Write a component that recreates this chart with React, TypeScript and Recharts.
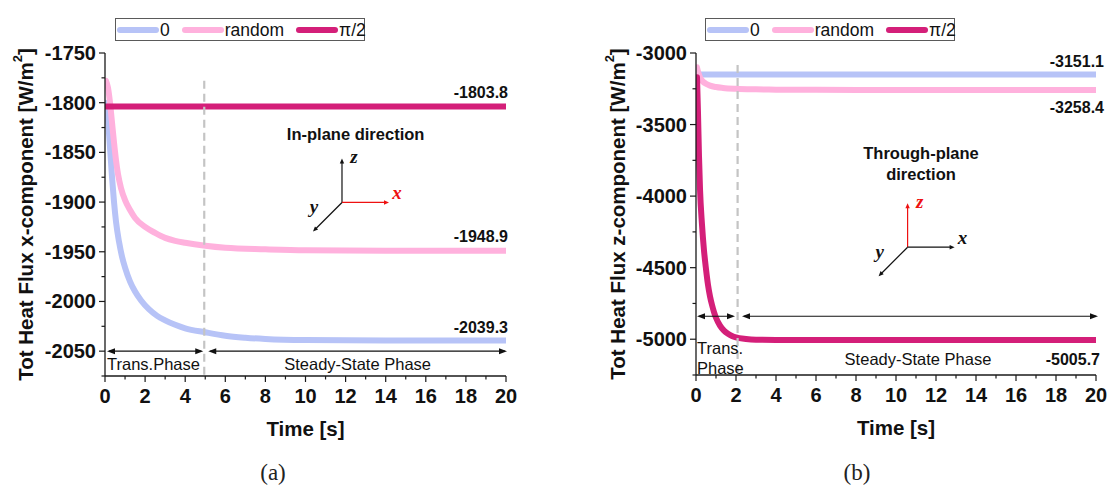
import React from 'react';
import {
  LineChart,
  Line,
  XAxis,
  YAxis,
  Legend,
  ReferenceLine,
  ReferenceDot,
} from 'recharts';

// ---------- series meta ----------
const seriesNames = ['0', 'random', 'π/2'];
const seriesColors = ['#b7c3f7', '#ffb1dd', '#d41f79'];

// ---------- (a) in-plane: x-component of total heat flux ----------
const inPlaneZeroT = [0.03, 0.15, 0.25, 0.35, 0.45, 0.55, 0.7, 0.85, 1.0, 1.25, 1.5, 1.8, 2.2, 2.6, 3.0, 3.5, 4.0, 5.0, 6.0, 7.0, 8.0, 10, 14, 20];
const inPlaneZeroV = [-1800, -1818, -1845, -1875, -1900, -1920, -1940, -1955, -1966, -1980, -1990, -1999, -2008, -2014.5, -2019, -2023.5, -2027, -2031, -2034.5, -2036.5, -2037.8, -2038.9, -2039.3, -2039.3];

const inPlaneRandomT = [0.05, 0.15, 0.25, 0.35, 0.45, 0.55, 0.65, 0.8, 1.0, 1.25, 1.5, 2.0, 2.5, 3.0, 3.5, 4.0, 5.0, 6.0, 8.0, 10, 14, 20];
const inPlaneRandomV = [-1778, -1785, -1800, -1820, -1840, -1858, -1872, -1886, -1898, -1908, -1916, -1925, -1931, -1936, -1939, -1941, -1944, -1946, -1947.5, -1948.5, -1948.9, -1948.9];

const inPlaneHalfPiT = [0, 20];
const inPlaneHalfPiV = [-1803.8, -1803.8];

const inPlaneXTicks = [0, 1, 2, 3, 4, 5, 6, 7, 8, 9, 10, 11, 12, 13, 14, 15, 16, 17, 18, 19, 20];
const inPlaneYTicks = [-2075, -2050, -2025, -2000, -1975, -1950, -1925, -1900, -1875, -1850, -1825, -1800, -1775, -1750];

// ---------- (b) through-plane: z-component of total heat flux ----------
const throughZeroT = [0.1, 20];
const throughZeroV = [-3151.1, -3151.1];

const throughRandomT = [0.05, 0.1, 0.2, 0.35, 0.5, 0.7, 1.0, 1.35, 2.0, 3.0, 4.0, 6.0, 10, 20];
const throughRandomV = [-3100, -3130, -3170, -3200, -3215, -3228, -3238, -3244, -3250, -3254, -3256, -3257.5, -3258.2, -3258.4];

const throughHalfPiT = [0.05, 0.1, 0.15, 0.2, 0.3, 0.4, 0.5, 0.6, 0.7, 0.8, 0.9, 1.0, 1.2, 1.4, 1.6, 1.8, 2.0, 2.5, 3.0, 4, 6, 20];
const throughHalfPiV = [-3170, -3420, -3720, -3950, -4200, -4380, -4510, -4620, -4700, -4760, -4810, -4850, -4905, -4940, -4962, -4977, -4987, -4998, -5003, -5005, -5005.5, -5005.7];

const throughXTicks = [0, 1, 2, 3, 4, 5, 6, 7, 8, 9, 10, 11, 12, 13, 14, 15, 16, 17, 18, 19, 20];
const throughYTicks = [-5250, -5000, -4750, -4500, -4250, -4000, -3750, -3500, -3250, -3000];

// ---------- styling ----------
const SANS = '"Liberation Sans", Arial, Helvetica, sans-serif';
const SERIF = '"Liberation Serif", "Times New Roman", serif';
const AXIS = '#1a1a1a';
const DASH = '#c4c4c4';
const TICK_FONT = 20;

type Pt = { t: number; v: number };
const zip = (ts: number[], vs: number[]): Pt[] => ts.map((t, i) => ({ t, v: vs[i] }));
const last = (vs: number[]) => vs[vs.length - 1];

// ---------- axis ticks with minor marks ----------
const makeXTick = (majorStep: number) => (props: any) => {
  const { x, y, payload } = props;
  const v = payload.value as number;
  const major = Math.abs(v % majorStep) < 1e-9;
  return (
    <g>
      <line x1={x} x2={x} y1={y} y2={y + (major ? 6 : 3.5)} stroke={AXIS} strokeWidth={1.2} />
      {major && (
        <text x={x} y={y + 27} textAnchor="middle" fontSize={TICK_FONT} fontWeight="bold" fill="#111" fontFamily={SANS}>
          {v}
        </text>
      )}
    </g>
  );
};

const makeYTick = (majorStep: number) => (props: any) => {
  const { x, y, payload } = props;
  const v = payload.value as number;
  const major = Math.abs(v % majorStep) < 1e-9;
  return (
    <g>
      <line x1={x} x2={x - (major ? 6 : 3.5)} y1={y} y2={y} stroke={AXIS} strokeWidth={1.2} />
      {major && (
        <text x={x - 9} y={y + 7} textAnchor="end" fontSize={TICK_FONT} fontWeight="bold" fill="#111" fontFamily={SANS}>
          {v}
        </text>
      )}
    </g>
  );
};

// ---------- annotation shapes ----------
const DoubleArrow = (p: any) => {
  const { x1, y1, x2, y2 } = p;
  const h = 8;
  const w = 3;
  return (
    <g>
      <line x1={x1 + 2} y1={y1} x2={x2 - 2} y2={y2} stroke="#111" strokeWidth={1.1} />
      <polygon points={`${x1},${y1} ${x1 + h},${y1 - w} ${x1 + h},${y1 + w}`} fill="#111" />
      <polygon points={`${x2},${y2} ${x2 - h},${y2 - w} ${x2 - h},${y2 + w}`} fill="#111" />
    </g>
  );
};

const textAt =
  (lines: string[], opts: { anchor?: 'start' | 'middle' | 'end'; dx?: number; dy?: number; size?: number; bold?: boolean; gap?: number }) =>
  (p: any) => {
    const { cx, cy } = p;
    const { anchor = 'middle', dx = 0, dy = 0, size = 16, bold = false, gap = 20 } = opts;
    return (
      <g>
        {lines.map((s, i) => (
          <text
            key={i}
            x={cx + dx}
            y={cy + dy + i * gap}
            textAnchor={anchor}
            fontSize={size}
            fontWeight={bold ? 'bold' : 'normal'}
            fill="#111"
            fontFamily={SANS}
          >
            {s}
          </text>
        ))}
      </g>
    );
  };

const arrowHead = (x: number, y: number, ang: number, color: string) => {
  const L = 5;
  const W = 2.2;
  const c = Math.cos(ang);
  const s = Math.sin(ang);
  const bx = x - L * c;
  const by = y - L * s;
  return <polygon points={`${x},${y} ${bx - W * s},${by + W * c} ${bx + W * s},${by - W * c}`} fill={color} />;
};

// coordinate-frame glyph: z up, x right, y down-left; one axis highlighted red
const AxesGlyph = (redAxis: 'x' | 'z') => (p: any) => {
  const { cx, cy } = p;
  const red = '#ee1111';
  const zc = redAxis === 'z' ? red : '#111';
  const xc = redAxis === 'x' ? red : '#111';
  const zLen = 44;
  const xLen = 47;
  const yd = 29;
  const lab = { fontFamily: SERIF, fontStyle: 'italic' as const, fontWeight: 'bold' as const, fontSize: 19 };
  return (
    <g>
      <line x1={cx} y1={cy} x2={cx} y2={cy - zLen + 3} stroke={zc} strokeWidth={1.2} />
      {arrowHead(cx, cy - zLen, -Math.PI / 2, zc)}
      <line x1={cx} y1={cy} x2={cx + xLen - 3} y2={cy} stroke={xc} strokeWidth={1.2} />
      {arrowHead(cx + xLen, cy, 0, xc)}
      <line x1={cx} y1={cy} x2={cx - yd + 2} y2={cy + yd - 2} stroke="#111" strokeWidth={1.2} />
      {arrowHead(cx - yd, cy + yd, (3 * Math.PI) / 4, '#111')}
      <text x={cx + 12} y={cy - zLen + 5} textAnchor="middle" fill={zc} {...lab}>z</text>
      <text x={cx + xLen + 8} y={cy - 3} textAnchor="middle" fill={xc} {...lab}>x</text>
      <text x={cx - 28} y={cy + 11} textAnchor="middle" fill="#111" {...lab}>y</text>
    </g>
  );
};

// ---------- legend ----------
const LegendBox = (props: any) => {
  const payload = (props.payload || []) as any[];
  return (
    <div
      style={{
        boxSizing: 'border-box',
        width: 250,
        height: 23,
        border: '1px solid #5a5a5a',
        display: 'flex',
        alignItems: 'center',
        paddingLeft: 1,
        fontFamily: SANS,
        fontSize: 17.5,
        color: '#111',
        background: '#fff',
      }}
    >
      {payload.map((it, i) => (
        <span key={i} style={{ display: 'flex', alignItems: 'center', marginRight: i < payload.length - 1 ? 12 : 0 }}>
          <svg width={42} height={10} style={{ display: 'block' }}>
            <line x1={3} y1={5} x2={39} y2={5} stroke={it.color} strokeWidth={6} strokeLinecap="round" />
          </svg>
          <span style={{ marginLeft: 1, lineHeight: '20px' }}>{it.value}</span>
        </span>
      ))}
    </div>
  );
};

// ---------- axis titles ----------
const xTitle = (p: any) => {
  const vb = p.viewBox || {};
  return (
    <text x={vb.x + vb.width / 2} y={vb.y + 60} textAnchor="middle" fontSize={20.5} fontWeight="bold" fill="#111" fontFamily={SANS}>
      Time [s]
    </text>
  );
};

const yTitle = (component: string, cxPos: number) => (p: any) => {
  const vb = p.viewBox || {};
  const cy = vb.y + vb.height / 2;
  return (
    <text
      x={cxPos}
      y={cy}
      transform={`rotate(-90, ${cxPos}, ${cy})`}
      textAnchor="middle"
      dominantBaseline="central"
      fontSize={20.5}
      fontWeight="bold"
      fill="#111"
      fontFamily={SANS}
    >
      {`Tot Heat Flux ${component}-component [W/m`}
      <tspan fontSize={13} dy={-8}>2</tspan>
      <tspan dy={8}>]</tspan>
    </text>
  );
};

const lineProps = {
  type: 'monotone' as const,
  dataKey: 'v',
  strokeWidth: 6,
  dot: false,
  isAnimationActive: false,
  strokeLinecap: 'round' as const,
  strokeLinejoin: 'round' as const,
};

const InPlaneChart = () => (
  <LineChart width={554} height={485} margin={{ top: 53, right: 48, bottom: 39, left: 0 }}>
    <XAxis
      dataKey="t"
      type="number"
      domain={[0, 20]}
      ticks={inPlaneXTicks}
      interval={0}
      tick={makeXTick(2)}
      tickLine={false}
      tickSize={0}
      tickMargin={0}
      axisLine={{ stroke: AXIS, strokeWidth: 1.3 }}
      height={70}
      label={xTitle}
      allowDataOverflow
    />
    <YAxis
      type="number"
      domain={[-2075, -1750]}
      ticks={inPlaneYTicks}
      interval={0}
      tick={makeYTick(50)}
      tickLine={false}
      tickSize={0}
      tickMargin={0}
      axisLine={{ stroke: AXIS, strokeWidth: 1.3 }}
      width={105}
      label={yTitle('x', 25)}
      allowDataOverflow
    />
    <Legend
      layout="horizontal"
      verticalAlign="middle"
      align="center"
      content={LegendBox}
      wrapperStyle={{ left: 115, top: 18, width: 250, height: 23 }}
    />
    <Line {...lineProps} name={seriesNames[0]} data={zip(inPlaneZeroT, inPlaneZeroV)} stroke={seriesColors[0]} />
    <Line {...lineProps} name={seriesNames[1]} data={zip(inPlaneRandomT, inPlaneRandomV)} stroke={seriesColors[1]} />
    <Line {...lineProps} name={seriesNames[2]} data={zip(inPlaneHalfPiT, inPlaneHalfPiV)} stroke={seriesColors[2]} />

    <ReferenceLine ifOverflow="visible" segment={[{ x: 4.95, y: -1778 }, { x: 4.95, y: -2075 }]} stroke={DASH} strokeWidth={2.2} strokeDasharray="8 5" />
    <ReferenceLine ifOverflow="visible" segment={[{ x: 0.1, y: -2050 }, { x: 4.9, y: -2050 }]} shape={DoubleArrow} />
    <ReferenceLine ifOverflow="visible" segment={[{ x: 5.15, y: -2050 }, { x: 20.05, y: -2050 }]} shape={DoubleArrow} />

    <ReferenceDot x={0.1} y={-2050} r={0} shape={textAt(['Trans.Phase'], { anchor: 'start', dy: 18.5, size: 16.5 })} />
    <ReferenceDot x={12.6} y={-2050} r={0} shape={textAt(['Steady-State Phase'], { dy: 18.5, size: 16.5 })} />

    <ReferenceDot x={20} y={last(inPlaneHalfPiV)} r={0} shape={textAt([last(inPlaneHalfPiV).toFixed(1)], { anchor: 'end', dx: 2, dy: -8.5, bold: true })} />
    <ReferenceDot x={20} y={last(inPlaneRandomV)} r={0} shape={textAt([last(inPlaneRandomV).toFixed(1)], { anchor: 'end', dx: 2, dy: -9, bold: true })} />
    <ReferenceDot x={20} y={last(inPlaneZeroV)} r={0} shape={textAt([last(inPlaneZeroV).toFixed(1)], { anchor: 'end', dx: 2, dy: -8, bold: true })} />

    <ReferenceDot x={12.5} y={-1832} r={0} shape={textAt(['In-plane direction'], { dy: 6, size: 16.5, bold: true })} />
    <ReferenceDot x={11.82} y={-1900.4} r={0} shape={AxesGlyph('x')} />
  </LineChart>
);

const ThroughPlaneChart = () => (
  <LineChart width={554} height={485} margin={{ top: 53, right: 12, bottom: 40, left: 0 }}>
    <XAxis
      dataKey="t"
      type="number"
      domain={[0, 20]}
      ticks={throughXTicks}
      interval={0}
      tick={makeXTick(2)}
      tickLine={false}
      tickSize={0}
      tickMargin={0}
      axisLine={{ stroke: AXIS, strokeWidth: 1.3 }}
      height={70}
      label={xTitle}
      allowDataOverflow
    />
    <YAxis
      type="number"
      domain={[-5250, -3000]}
      ticks={throughYTicks}
      interval={0}
      tick={makeYTick(500)}
      tickLine={false}
      tickSize={0}
      tickMargin={0}
      axisLine={{ stroke: AXIS, strokeWidth: 1.3 }}
      width={142}
      label={yTitle('z', 63)}
      allowDataOverflow
    />
    <Legend
      layout="horizontal"
      verticalAlign="middle"
      align="center"
      content={LegendBox}
      wrapperStyle={{ left: 151, top: 18, width: 250, height: 23 }}
    />
    <Line {...lineProps} name={seriesNames[0]} data={zip(throughZeroT, throughZeroV)} stroke={seriesColors[0]} />
    <Line {...lineProps} name={seriesNames[1]} data={zip(throughRandomT, throughRandomV)} stroke={seriesColors[1]} />
    <Line {...lineProps} name={seriesNames[2]} data={zip(throughHalfPiT, throughHalfPiV)} stroke={seriesColors[2]} />

    <ReferenceLine ifOverflow="visible" segment={[{ x: 2.08, y: -3084 }, { x: 2.08, y: -5250 }]} stroke={DASH} strokeWidth={2.2} strokeDasharray="8 5" />
    <ReferenceLine ifOverflow="visible" segment={[{ x: 0.05, y: -4840 }, { x: 1.95, y: -4840 }]} shape={DoubleArrow} />
    <ReferenceLine ifOverflow="visible" segment={[{ x: 2.3, y: -4840 }, { x: 20.1, y: -4840 }]} shape={DoubleArrow} />

    <ReferenceDot x={0.05} y={-5063} r={0} shape={textAt(['Trans.', 'Phase'], { anchor: 'start', dy: 6, size: 16.5, gap: 20 })} />
    <ReferenceDot x={11.1} y={-5140} r={0} shape={textAt(['Steady-State Phase'], { dy: 6, size: 16.5 })} />

    <ReferenceDot x={20} y={last(throughZeroV)} r={0} shape={textAt([last(throughZeroV).toFixed(1)], { anchor: 'end', dx: 8, dy: -8, bold: true })} />
    <ReferenceDot x={20} y={last(throughRandomV)} r={0} shape={textAt([last(throughRandomV).toFixed(1)], { anchor: 'end', dx: 8, dy: 23, bold: true })} />
    <ReferenceDot x={20} y={last(throughHalfPiV)} r={0} shape={textAt([last(throughHalfPiV).toFixed(1)], { anchor: 'end', dx: 4, dy: 25, bold: true })} />

    <ReferenceDot x={11.25} y={-3701} r={0} shape={textAt(['Through-plane', 'direction'], { dy: 6, size: 16.5, bold: true, gap: 20.5 })} />
    <ReferenceDot x={10.58} y={-4357} r={0} shape={AxesGlyph('z')} />
  </LineChart>
);

export default function App() {
  return (
    <div style={{ position: 'absolute', left: 0, top: 0, width: 1108, height: 485, background: '#fff', overflow: 'hidden' }}>
      <div style={{ position: 'absolute', left: 0, top: 0 }}>
        <InPlaneChart />
      </div>
      <div style={{ position: 'absolute', left: 554, top: 0 }}>
        <ThroughPlaneChart />
      </div>
      <div style={{ position: 'absolute', left: 273, top: 473, transform: 'translate(-50%, -50%)', fontFamily: SERIF, fontSize: 23, color: '#222' }}>
        (a)
      </div>
      <div style={{ position: 'absolute', left: 857, top: 473, transform: 'translate(-50%, -50%)', fontFamily: SERIF, fontSize: 23, color: '#222' }}>
        (b)
      </div>
    </div>
  );
}
